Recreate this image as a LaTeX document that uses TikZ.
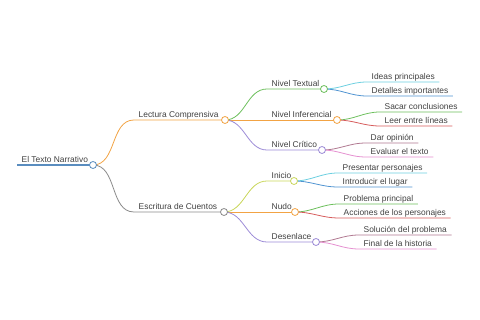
\documentclass[tikz,border=0pt]{standalone}
\usepackage{fontspec}
\setmainfont{Liberation Sans}
\usetikzlibrary{backgrounds}

\definecolor{rootblue}{HTML}{5A8DBF}
\definecolor{branchorange}{HTML}{F2A344}
\definecolor{branchgray}{HTML}{8A8A8A}
\definecolor{branchgreen}{HTML}{6CBF5C}
\definecolor{branchpurple}{HTML}{9B8AD6}
\definecolor{branchyellow}{HTML}{C9D65A}
\definecolor{leafcyan}{HTML}{6CCFE0}
\definecolor{leafblue}{HTML}{4F93D1}
\definecolor{leafgreen}{HTML}{6CBF5C}
\definecolor{leafred}{HTML}{D65C5C}
\definecolor{leafmauve}{HTML}{B07890}
\definecolor{leafpink}{HTML}{E58FD0}

\begin{document}
\begin{tikzpicture}[x=1pt,y=-1pt,
    every node/.style={font=\fontsize{8.4}{10}\selectfont, text=black!75},
    lbl/.style={anchor=south west, inner xsep=4.5pt, inner ysep=2.5pt, text depth=0pt},
    dot/.style={circle, draw=#1, fill=white, line width=0.8pt, minimum size=7pt, inner sep=0pt},
    link/.style={draw=#1, line width=0.8pt}]
    \useasboundingbox (0,0) rectangle (480,320);

    % root
    \coordinate (s0) at (17,165);
    \node[dot=rootblue] (root) at (93,165) {};
    \node[lbl] (t0) at (s0) {El Texto Narrativo};

    % main branches
    \coordinate (s1) at (134,120);
    \node[dot=branchorange] (lect) at (225,120) {};
    \node[lbl] (t1) at (s1) {Lectura Comprensiva};
    \coordinate (s2) at (134,212);
    \node[dot=branchgray] (escr) at (224,212) {};
    \node[lbl] (t2) at (s2) {Escritura de Cuentos};

    % levels / parts
    \coordinate (s11) at (267,89);
    \node[dot=branchgreen] (textual) at (324,89) {};
    \node[lbl] at (s11) {Nivel Textual};
    \coordinate (s12) at (267,120);
    \node[dot=branchorange] (inferencial) at (337,120) {};
    \node[lbl] at (s12) {Nivel Inferencial};
    \coordinate (s13) at (267,150);
    \node[dot=branchpurple] (critico) at (322,150) {};
    \node[lbl] at (s13) {Nivel Crítico};
    \coordinate (s21) at (267,181);
    \node[dot=branchyellow] (inicio) at (294,181) {};
    \node[lbl] at (s21) {Inicio};
    \coordinate (s22) at (267,212);
    \node[dot=branchorange] (nudo) at (295,212) {};
    \node[lbl] at (s22) {Nudo};
    \coordinate (s23) at (267,242);
    \node[dot=branchpurple] (desenlace) at (316,242) {};
    \node[lbl] at (s23) {Desenlace};

    % leaves
    \coordinate (l1) at (367,82);  \node[lbl] (tl1) at (l1) {Ideas principales};
    \coordinate (l2) at (367,96);  \node[lbl] (tl2) at (l2) {Detalles importantes};
    \coordinate (l3) at (380,112); \node[lbl] (tl3) at (l3) {Sacar conclusiones};
    \coordinate (l4) at (380,126); \node[lbl] (tl4) at (l4) {Leer entre líneas};
    \coordinate (l5) at (366,143); \node[lbl] (tl5) at (l5) {Dar opinión};
    \coordinate (l6) at (366,157); \node[lbl] (tl6) at (l6) {Evaluar el texto};
    \coordinate (l7) at (338,173); \node[lbl] (tl7) at (l7) {Presentar personajes};
    \coordinate (l8) at (338,187); \node[lbl] (tl8) at (l8) {Introducir el lugar};
    \coordinate (l9) at (339,204); \node[lbl] (tl9) at (l9) {Problema principal};
    \coordinate (l10) at (339,218); \node[lbl] (tl10) at (l10) {Acciones de los personajes};
    \coordinate (l11) at (359,235); \node[lbl] (tl11) at (l11) {Solución del problema};
    \coordinate (l12) at (359,249); \node[lbl] (tl12) at (l12) {Final de la historia};

    \begin{scope}[on background layer]
        \draw[rootblue, line width=1.5pt] (s0) -- (root.center);
        \draw[link=branchorange] (root.center) to[out=0,in=180] (s1) -- (lect.center);
        \draw[link=branchgray] (root.center) to[out=0,in=180] (s2) -- (escr.center);

        \draw[link=branchgreen] (lect.center) to[out=0,in=180] (s11) -- (textual.center);
        \draw[link=branchorange] (lect.center) -- (inferencial.center);
        \draw[link=branchpurple] (lect.center) to[out=0,in=180] (s13) -- (critico.center);
        \draw[link=branchyellow] (escr.center) to[out=0,in=180] (s21) -- (inicio.center);
        \draw[link=branchorange] (escr.center) -- (nudo.center);
        \draw[link=branchpurple] (escr.center) to[out=0,in=180] (s23) -- (desenlace.center);

        \draw[link=leafcyan] (textual.center) to[out=0,in=180] (l1) -- (l1 -| tl1.east);
        \draw[link=leafblue] (textual.center) to[out=0,in=180] (l2) -- (l2 -| tl2.east);
        \draw[link=leafgreen] (inferencial.center) to[out=0,in=180] (l3) -- (l3 -| tl3.east);
        \draw[link=leafred] (inferencial.center) to[out=0,in=180] (l4) -- (l4 -| tl4.east);
        \draw[link=leafmauve] (critico.center) to[out=0,in=180] (l5) -- (l5 -| tl5.east);
        \draw[link=leafpink] (critico.center) to[out=0,in=180] (l6) -- (l6 -| tl6.east);
        \draw[link=leafcyan] (inicio.center) to[out=0,in=180] (l7) -- (l7 -| tl7.east);
        \draw[link=leafblue] (inicio.center) to[out=0,in=180] (l8) -- (l8 -| tl8.east);
        \draw[link=leafgreen] (nudo.center) to[out=0,in=180] (l9) -- (l9 -| tl9.east);
        \draw[link=leafred] (nudo.center) to[out=0,in=180] (l10) -- (l10 -| tl10.east);
        \draw[link=leafmauve] (desenlace.center) to[out=0,in=180] (l11) -- (l11 -| tl11.east);
        \draw[link=leafpink] (desenlace.center) to[out=0,in=180] (l12) -- (l12 -| tl12.east);
    \end{scope}
\end{tikzpicture}
\end{document}
